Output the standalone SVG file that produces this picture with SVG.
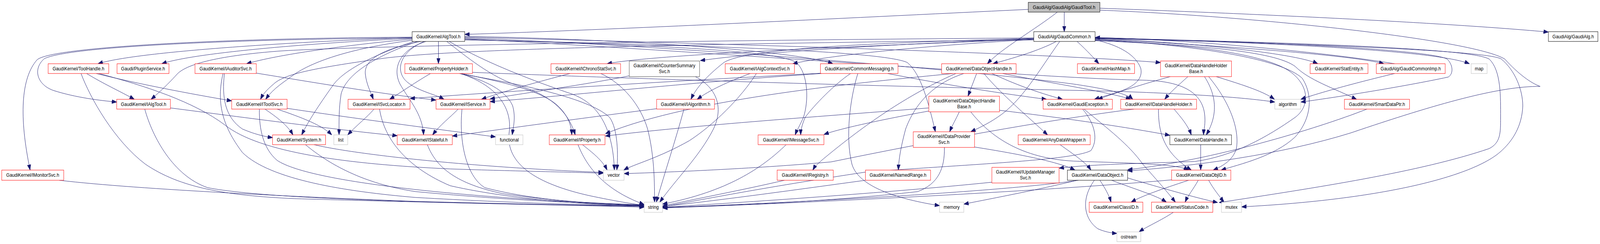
<svg xmlns="http://www.w3.org/2000/svg" width="4620" height="624" viewBox="0 0 4620 624" preserveAspectRatio="none">
<style>
svg{width:100vw;height:100vh}
.n rect{fill:#fff;stroke:#ff0000;stroke-width:1}
.n.k rect{stroke:#000}
.n.d rect{stroke:#404040}
.n.g rect{stroke:#bfbfbf}
.n text{font-family:"Liberation Sans",Arial,sans-serif;font-size:12.8px;text-anchor:middle;fill:#000}
#edges path{fill:none;stroke:#191970;stroke-width:1;marker-end:url(#arr)}
</style>
<defs>
<marker id="arr" viewBox="0 0 14 10" markerWidth="14" markerHeight="10" refX="14" refY="5" orient="auto" markerUnits="userSpaceOnUse">
<path d="M0,0 L14,5 L0,10 z" fill="#191970" stroke="#191970"/>
</marker>
</defs>
<rect width="4620" height="624" fill="#fff"/>
<g id="edges">
<path d="M2969,24 C2400,48 1800,75 1342,88"/>
<path d="M3073,31 L3073,81"/>
<path d="M3053,31 C2990,75 2890,125 2851,163"/>
<path d="M3176,21 C3700,38 4200,60 4471,82"/>
<path d="M3176,26 C3600,40 4250,100 4345,151 C4385,190 4420,212 4447,221 C4330,220 4150,265 3900,340 C3700,395 3450,425 3256,437"/>
<path d="M1190,96 C900,105 400,130 283,163"/>
<path d="M1190,98 C900,110 560,135 467,163"/>
<path d="M1190,100 C1000,115 800,140 712,163"/>
<path d="M1266,106 L1266,163"/>
<path d="M1190,97 C700,100 200,118 128,150 C95,175 105,215 153,231 C220,250 290,257 337,261"/>
<path d="M1190,95 C700,97 150,118 107,153 C60,200 55,300 87,435"/>
<path d="M1190,103 C1000,125 900,160 850,190 C820,210 790,225 767,254"/>
<path d="M1215,106 C1100,125 1050,155 1055,190 C1058,215 1070,235 1078,254"/>
<path d="M1225,106 C1160,130 1140,175 1170,205 C1200,232 1255,240 1282,254"/>
<path d="M1230,106 C1160,125 1130,170 1155,215 C1180,255 1220,290 1223,345"/>
<path d="M1195,106 C1080,140 990,180 960,220 C920,270 890,310 871,345"/>
<path d="M1205,106 C1080,145 1000,190 985,240 C978,280 979,310 979,345"/>
<path d="M1290,106 C1340,140 1420,200 1500,220 C1580,240 1640,280 1661,345"/>
<path d="M1342,93 C1800,100 2300,130 2405,163"/>
<path d="M1342,95 C2000,110 3000,135 3351,160"/>
<path d="M1342,97 C2000,120 2800,180 3100,215 C3200,228 3255,240 3271,254"/>
<path d="M1342,99 C2200,140 3000,200 3300,205 C3420,207 3470,240 3478,290 C3482,315 3476,330 3475,345"/>
<path d="M1297,106 C1400,160 1550,210 1650,240 C1730,265 1770,330 1774,435"/>
<path d="M1342,101 C1900,115 2250,130 2300,160 C2335,190 2335,260 2320,300 C2310,320 2300,335 2296,345"/>
<path d="M1342,102 C2000,115 2550,130 2620,160 C2660,190 2680,260 2701,337"/>
<path d="M250,188 C300,215 350,235 388,254"/>
<path d="M278,188 C400,215 550,240 669,258"/>
<path d="M234,188 C260,250 330,360 420,420 C520,480 650,500 850,508 C1300,520 1700,525 1860,530"/>
<path d="M286,188 C420,220 560,260 650,320 C750,390 1000,420 1300,432 C1500,438 1650,440 1742,443"/>
<path d="M418,279 C440,350 500,450 600,480 C800,515 1500,522 1860,528"/>
<path d="M492,276 C700,300 1000,335 1147,347"/>
<path d="M171,461 C400,485 900,505 1200,515 C1500,522 1750,526 1860,527"/>
<path d="M740,187 C900,210 1100,240 1259,256"/>
<path d="M648,188 C640,250 650,300 700,330 C740,345 770,350 787,352"/>
<path d="M644,188 C625,260 640,320 700,390 C780,460 1000,490 1200,505 C1500,520 1700,524 1860,526"/>
<path d="M765,279 C800,300 830,320 846,345"/>
<path d="M800,279 C870,300 930,320 958,345"/>
<path d="M829,277 C1000,300 1300,335 1431,350"/>
<path d="M749,279 C748,330 760,380 800,410 C900,470 1400,510 1860,524"/>
<path d="M1080,279 C1060,300 1030,320 1004,345"/>
<path d="M1096,279 C1110,360 1180,430 1300,475 C1500,515 1750,525 1860,527"/>
<path d="M1323,279 C1300,300 1270,320 1249,345"/>
<path d="M1334,279 C1325,360 1345,450 1400,480 C1550,515 1750,523 1860,526"/>
<path d="M1234,370 C1260,430 1320,470 1450,495 C1600,515 1750,522 1860,525"/>
<path d="M882,370 C950,420 1050,470 1200,490 C1500,515 1750,522 1860,524"/>
<path d="M907,370 C1000,390 1300,425 1742,441"/>
<path d="M1243,188 C1200,210 1160,235 1125,254"/>
<path d="M1327,188 C1400,205 1460,230 1480,270 C1490,300 1482,325 1479,345"/>
<path d="M1333,188 C1450,210 1560,230 1610,270 C1640,295 1650,320 1651,345"/>
<path d="M1330,188 C1440,220 1480,280 1470,340 C1460,420 1550,470 1700,500 C1780,515 1830,522 1860,525"/>
<path d="M1337,190 C1500,215 1700,250 1760,300 C1785,330 1785,400 1781,435"/>
<path d="M1363,185 C1800,200 2400,218 3200,233 C3450,240 3600,250 3681,261"/>
<path d="M1646,188 C1550,210 1450,235 1390,254"/>
<path d="M1735,188 C1800,215 1850,270 1870,330 C1890,400 1890,470 1890,517"/>
<path d="M1817,194 C1700,215 1500,240 1415,253"/>
<path d="M2008,196 C2070,225 2090,275 2060,330 C2020,400 1950,460 1905,517"/>
<path d="M2166,188 C2100,210 2050,230 2013,254"/>
<path d="M2184,188 C2140,250 2060,320 1990,360 C1900,405 1830,420 1801,435"/>
<path d="M1896,278 C1700,300 1450,330 1306,348"/>
<path d="M1975,279 C1950,360 1920,440 1895,517"/>
<path d="M2375,187 C2000,205 1600,225 1184,252"/>
<path d="M2372,188 C2000,210 1700,240 1415,260"/>
<path d="M2456,188 C2410,215 2350,270 2325,300 C2315,320 2312,335 2312,345"/>
<path d="M2563,188 C2750,220 2900,240 3022,254"/>
<path d="M2477,188 C2455,250 2440,350 2460,420 C2480,480 2600,510 2713,526"/>
<path d="M2820,188 L2795,246"/>
<path d="M2864,188 C2930,215 2990,235 3068,254"/>
<path d="M2895,188 C3050,215 3200,235 3265,254"/>
<path d="M2841,188 C2890,240 2970,300 3025,345"/>
<path d="M2752,188 C2500,210 2000,250 1748,342"/>
<path d="M2783,188 C2690,215 2640,270 2615,330 C2600,380 2595,410 2594,435"/>
<path d="M2760,188 C2600,250 2470,340 2400,390 C2375,408 2355,422 2347,435"/>
<path d="M2770,286 C2760,305 2750,320 2742,337"/>
<path d="M2682,276 C2400,296 2000,320 1748,348"/>
<path d="M2682,284 C2550,305 2420,330 2379,344"/>
<path d="M2803,286 C2860,350 2950,405 3100,412 C3300,418 3400,420 3432,435"/>
<path d="M2886,282 C3100,305 3250,325 3378,346"/>
<path d="M2727,377 C2728,430 2710,470 2650,490 C2400,515 2100,527 1913,530"/>
<path d="M2814,376 C2950,395 3060,415 3104,435"/>
<path d="M2270,370 C2200,430 2100,490 1913,522"/>
<path d="M1669,370 C1700,440 1760,490 1860,523"/>
<path d="M1682,370 C1710,390 1740,410 1753,435"/>
<path d="M2265,461 C2150,485 2000,510 1913,527"/>
<path d="M2499,461 C2300,485 2100,510 1913,528"/>
<path d="M2864,466 C2600,490 2200,515 1913,530"/>
<path d="M3061,370 C3100,395 3135,415 3150,435"/>
<path d="M3467,370 L3467,435"/>
<path d="M3114,461 C2900,490 2300,518 1913,531"/>
<path d="M3110,461 C3000,485 2850,510 2783,522"/>
<path d="M3176,461 C3190,480 3203,500 3208,517"/>
<path d="M3210,461 C3280,485 3340,500 3368,517"/>
<path d="M3256,455 C3350,480 3450,505 3516,518"/>
<path d="M3160,461 C3120,510 3130,560 3170,585 C3190,593 3210,596 3225,597"/>
<path d="M3432,461 C3350,485 3300,500 3266,517"/>
<path d="M3460,461 C3445,485 3430,500 3422,517"/>
<path d="M3490,461 C3505,485 3520,500 3534,517"/>
<path d="M3383,460 C3000,490 2300,520 1913,532"/>
<path d="M3388,543 C3350,565 3310,580 3289,593"/>
<path d="M3130,279 C3200,330 3260,370 3300,420 C3340,460 3370,490 3394,517"/>
<path d="M3126,279 C3165,320 3170,360 3150,385 C3100,410 2800,420 2500,440 C2200,480 2000,515 1913,529"/>
<path d="M3390,279 C3410,300 3430,320 3440,345"/>
<path d="M3345,279 C3345,340 3360,390 3440,435"/>
<path d="M3274,279 C3000,310 2700,360 2400,414 C2200,430 1950,440 1802,444"/>
<path d="M3379,196 C3300,215 3230,235 3170,254"/>
<path d="M3430,196 C3400,220 3380,235 3363,254"/>
<path d="M3478,196 C3510,240 3520,290 3483,345"/>
<path d="M3490,196 C3550,260 3580,330 3570,380 C3560,410 3530,425 3503,435"/>
<path d="M3512,196 C3600,220 3650,235 3680,254"/>
<path d="M4027,163 C3800,130 3400,100 3162,96"/>
<path d="M4027,188 C3900,215 3800,240 3756,254"/>
<path d="M3947,279 C3800,330 3500,410 3256,434"/>
<path d="M2985,100 C2500,118 1900,138 1753,163"/>
<path d="M2985,99 C2600,112 2200,132 2022,155"/>
<path d="M2985,101 C2700,115 2400,140 2289,163"/>
<path d="M2985,98 C2500,110 2150,125 2090,160 C2040,195 2010,225 1995,254"/>
<path d="M3050,106 C3000,130 2920,150 2867,163"/>
<path d="M3060,106 C3000,180 2950,260 2880,300 C2850,318 2820,330 2803,337"/>
<path d="M3110,106 C3140,130 3160,150 3173,163"/>
<path d="M2985,97 C2000,103 1000,118 800,131 C600,145 530,170 510,191 C480,220 455,240 436,254"/>
<path d="M2985,102 C2000,112 1300,125 1100,150 C900,175 820,190 790,215 C770,230 760,240 752,254"/>
<path d="M3162,102 C3230,115 3280,140 3294,175 C3300,200 3280,220 3230,235 C3200,243 3180,248 3160,254"/>
<path d="M3162,101 C3450,115 3700,150 3760,200 C3790,240 3790,300 3740,350 C3680,400 3580,420 3526,435"/>
<path d="M3162,103 C3450,112 3650,140 3720,180 C3780,215 3785,270 3740,300 C3660,350 3560,400 3450,413 C3300,418 3150,420 3058,430"/>
<path d="M3162,98 C3500,112 3750,140 3805,163"/>
<path d="M3162,100 C3500,115 3900,140 3996,163"/>
<path d="M3162,96 C3700,110 4150,130 4243,163"/>
<path d="M3162,104 C3450,115 3680,130 3740,170 C3780,205 3850,225 3917,254"/>
<path d="M3162,99 C3700,105 4150,130 4180,152 C4198,170 4195,190 4182,197 C4050,222 3850,250 3756,261"/>
<path d="M3162,97 C3800,110 4250,125 4300,151 C4335,180 4333,250 4333,300 C4333,340 4333,365 4300,380 C4100,440 3800,480 3520,518"/>
<path d="M3162,98 C3800,112 4300,130 4335,151 C4375,180 4397,230 4397,271 C4395,320 4370,360 4330,390 C4250,450 4000,510 3585,529"/>
</g>
<g id="gaudiTool" class="n k"><rect x="2969" y="6" width="207" height="25" style="fill:#bfbfbf"/><text x="3072.5" y="23">GaudiAlg/GaudiAlg/GaudiTool.h</text></g>
<g id="algTool" class="n k"><rect x="1190" y="81" width="152" height="25"/><text x="1266" y="98">GaudiKernel/AlgTool.h</text></g>
<g id="gaudiCommon" class="n k"><rect x="2985" y="81" width="177" height="25"/><text x="3073.5" y="98">GaudiAlg/GaudiCommon.h</text></g>
<g id="gaudiAlg" class="n k"><rect x="4471" y="81" width="143" height="25"/><text x="4542.5" y="98">GaudiAlg/GaudiAlg.h</text></g>
<g id="toolHandle" class="n"><rect x="139" y="163" width="175" height="25"/><text x="226.5" y="180">GaudiKernel/ToolHandle.h</text></g>
<g id="pluginService" class="n"><rect x="338" y="163" width="150" height="25"/><text x="413" y="180">Gaudi/PluginService.h</text></g>
<g id="iAuditorSvc" class="n"><rect x="563" y="163" width="177" height="25"/><text x="651.5" y="180">GaudiKernel/IAuditorSvc.h</text></g>
<g id="propertyHolder" class="n"><rect x="1169" y="163" width="195" height="25"/><text x="1266.5" y="180">GaudiKernel/PropertyHolder.h</text></g>
<g id="iChronoStatSvc" class="n"><rect x="1591" y="163" width="201" height="25"/><text x="1691.5" y="180">GaudiKernel/IChronoStatSvc.h</text></g>
<g id="iCounterSummarySvc" class="n d"><rect x="1817" y="156" width="203" height="40"/><text x="1918.5" y="172.5">GaudiKernel/ICounterSummary</text><text x="1918.5" y="187">Svc.h</text></g>
<g id="iAlgContextSvc" class="n"><rect x="2094" y="163" width="200" height="25"/><text x="2194" y="180">GaudiKernel/IAlgContextSvc.h</text></g>
<g id="commonMessaging" class="n"><rect x="2369" y="163" width="224" height="25"/><text x="2481" y="180">GaudiKernel/CommonMessaging.h</text></g>
<g id="dataObjectHandle" class="n"><rect x="2719" y="163" width="215" height="25"/><text x="2826.5" y="180">GaudiKernel/DataObjectHandle.h</text></g>
<g id="hashMap" class="n"><rect x="3111" y="163" width="165" height="25"/><text x="3193.5" y="180">GaudiKernel/HashMap.h</text></g>
<g id="dataHandleHolderBase" class="n"><rect x="3351" y="156" width="205" height="40"/><text x="3453.5" y="172.5">GaudiKernel/DataHandleHolder</text><text x="3453.5" y="187">Base.h</text></g>
<g id="statEntity" class="n"><rect x="3783" y="163" width="167" height="25"/><text x="3866.5" y="180">GaudiKernel/StatEntity.h</text></g>
<g id="gaudiCommonImp" class="n"><rect x="3974" y="163" width="199" height="25"/><text x="4073.5" y="180">GaudiAlg/GaudiCommonImp.h</text></g>
<g id="map" class="n g"><rect x="4248" y="163" width="46" height="25"/><text x="4271" y="180">map</text></g>
<g id="iAlgTool" class="n"><rect x="337" y="254" width="155" height="25"/><text x="414.5" y="271">GaudiKernel/IAlgTool.h</text></g>
<g id="iToolSvc" class="n"><rect x="669" y="254" width="160" height="25"/><text x="749" y="271">GaudiKernel/IToolSvc.h</text></g>
<g id="iSvcLocator" class="n"><rect x="1005" y="254" width="179" height="25"/><text x="1094.5" y="271">GaudiKernel/ISvcLocator.h</text></g>
<g id="iService" class="n"><rect x="1259" y="254" width="156" height="25"/><text x="1337" y="271">GaudiKernel/IService.h</text></g>
<g id="iAlgorithm" class="n"><rect x="1896" y="254" width="167" height="25"/><text x="1979.5" y="271">GaudiKernel/IAlgorithm.h</text></g>
<g id="dataObjectHandleBase" class="n"><rect x="2682" y="246" width="204" height="40"/><text x="2784" y="262.5">GaudiKernel/DataObjectHandle</text><text x="2784" y="277">Base.h</text></g>
<g id="gaudiException" class="n"><rect x="3012" y="254" width="200" height="25"/><text x="3112" y="271">GaudiKernel/GaudiException.h</text></g>
<g id="iDataHandleHolder" class="n"><rect x="3236" y="254" width="219" height="25"/><text x="3345.5" y="271">GaudiKernel/IDataHandleHolder.h</text></g>
<g id="algorithm" class="n g"><rect x="3681" y="254" width="75" height="25"/><text x="3718.5" y="271">algorithm</text></g>
<g id="smartDataPtr" class="n"><rect x="3882" y="254" width="188" height="25"/><text x="3976" y="271">GaudiKernel/SmartDataPtr.h</text></g>
<g id="system" class="n"><rect x="787" y="345" width="153" height="25"/><text x="863.5" y="362">GaudiKernel/System.h</text></g>
<g id="list" class="n g"><rect x="964" y="345" width="40" height="25"/><text x="984" y="362">list</text></g>
<g id="iStateful" class="n"><rect x="1147" y="345" width="159" height="25"/><text x="1226.5" y="362">GaudiKernel/IStateful.h</text></g>
<g id="functional" class="n g"><rect x="1431" y="345" width="79" height="25"/><text x="1470.5" y="362">functional</text></g>
<g id="iProperty" class="n"><rect x="1586" y="345" width="161" height="25"/><text x="1666.5" y="362">GaudiKernel/IProperty.h</text></g>
<g id="iMessageSvc" class="n"><rect x="2189" y="345" width="190" height="25"/><text x="2284" y="362">GaudiKernel/IMessageSvc.h</text></g>
<g id="iDataProviderSvc" class="n"><rect x="2637" y="337" width="177" height="40"/><text x="2725.5" y="353.5">GaudiKernel/IDataProvider</text><text x="2725.5" y="368">Svc.h</text></g>
<g id="anyDataWrapper" class="n"><rect x="2940" y="345" width="208" height="25"/><text x="3044" y="362">GaudiKernel/AnyDataWrapper.h</text></g>
<g id="dataHandle" class="n k"><rect x="3378" y="345" width="178" height="25"/><text x="3467" y="362">GaudiKernel/DataHandle.h</text></g>
<g id="iMonitorSvc" class="n"><rect x="5" y="435" width="179" height="26"/><text x="94.5" y="452.5">GaudiKernel/IMonitorSvc.h</text></g>
<g id="vector" class="n g"><rect x="1742" y="435" width="60" height="26"/><text x="1772" y="452.5">vector</text></g>
<g id="iRegistry" class="n"><rect x="2244" y="435" width="162" height="26"/><text x="2325" y="452.5">GaudiKernel/IRegistry.h</text></g>
<g id="namedRange" class="n"><rect x="2499" y="435" width="188" height="26"/><text x="2593" y="452.5">GaudiKernel/NamedRange.h</text></g>
<g id="iUpdateManagerSvc" class="n"><rect x="2864" y="428" width="194" height="40"/><text x="2961" y="444.5">GaudiKernel/IUpdateManager</text><text x="2961" y="459">Svc.h</text></g>
<g id="dataObject" class="n k"><rect x="3082" y="435" width="174" height="26"/><text x="3169" y="452.5">GaudiKernel/DataObject.h</text></g>
<g id="dataObjID" class="n"><rect x="3383" y="435" width="171" height="26"/><text x="3468.5" y="452.5">GaudiKernel/DataObjID.h</text></g>
<g id="string" class="n g"><rect x="1860" y="517" width="53" height="26"/><text x="1886.5" y="534.5">string</text></g>
<g id="memory" class="n g"><rect x="2713" y="517" width="70" height="26"/><text x="2748" y="534.5">memory</text></g>
<g id="classID" class="n"><rect x="3145" y="517" width="155" height="26"/><text x="3222.5" y="534.5">GaudiKernel/ClassID.h</text></g>
<g id="statusCode" class="n"><rect x="3325" y="517" width="177" height="26"/><text x="3413.5" y="534.5">GaudiKernel/StatusCode.h</text></g>
<g id="mutex" class="n g"><rect x="3527" y="517" width="58" height="26"/><text x="3556" y="534.5">mutex</text></g>
<g id="ostream" class="n g"><rect x="3225" y="593" width="69" height="25"/><text x="3259.5" y="610">ostream</text></g>
</svg>
